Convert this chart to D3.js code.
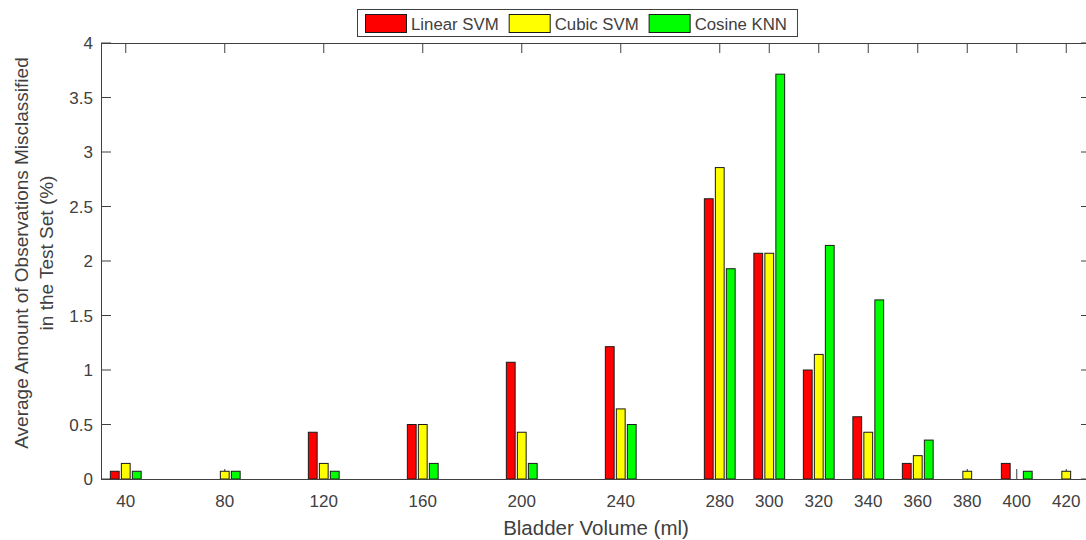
<!DOCTYPE html>
<html>
<head>
<meta charset="utf-8">
<script src="https://cdn.jsdelivr.net/npm/d3@7"></script>
<style>
  html, body { margin: 0; padding: 0; background: #fff; }
  svg { display: block; }
  text { font-family: "Liberation Sans", Arial, Helvetica, sans-serif; fill: #404040; }
</style>
</head>
<body>
<svg id="chart" width="1086" height="540"></svg>
<script>
// ---- data ----
const volumes = [40, 80, 120, 160, 200, 240, 280, 300, 320, 340, 360, 380, 400, 420];
const seriesNames = ["Linear SVM", "Cubic SVM", "Cosine KNN"];
const linearSVM = [0.071, 0, 0.429, 0.5, 1.071, 1.214, 2.571, 2.071, 1.0, 0.571, 0.143, 0, 0.143, 0];
const cubicSVM  = [0.143, 0.071, 0.143, 0.5, 0.429, 0.643, 2.857, 2.071, 1.143, 0.429, 0.214, 0.071, 0, 0.071];
const cosineKNN = [0.071, 0.071, 0.071, 0.143, 0.143, 0.5, 1.929, 3.714, 2.143, 1.643, 0.357, 0, 0.071, 0];
const yTicks = [0, 0.5, 1, 1.5, 2, 2.5, 3, 3.5, 4];
const seriesColors = ["#ff0000", "#ffff00", "#00ff00"];
const xLabel = "Bladder Volume (ml)";
const yLabelLines = ["Average Amount of Observations Misclassified", "in the Test Set (%)"];

const series = [linearSVM, cubicSVM, cosineKNN];

(function () {
// ---- layout ----
const svg = d3.select("#chart");
const pL = 101, pR = 1091, pT = 43, pB = 479;
const axisColor = "#404040";

const x = d3.scaleLinear().domain([30, 430]).range([pL, pR]);
const y = d3.scaleLinear().domain([0, 4]).range([pB, pT]);

// MATLAB-like grouped bar geometry
const minSpacing = 20;
const groupWidth = Math.min(0.8, 3 / 4.5);
const slot = minSpacing * groupWidth / 3;      // in data units
const barW = slot * 0.8;                        // in data units
const pxPerUnit = x(1) - x(0);

// ticks (drawn under bars)
const ticksG = svg.append("g");
const tickLen = 10;
ticksG.selectAll(".xtb").data(volumes).join("line")
  .attr("x1", d => x(d)).attr("x2", d => x(d))
  .attr("y1", pB).attr("y2", pB - tickLen)
  .attr("stroke", axisColor).attr("stroke-width", 1);
ticksG.selectAll(".xtt").data(volumes).join("line")
  .attr("x1", d => x(d)).attr("x2", d => x(d))
  .attr("y1", pT).attr("y2", pT + tickLen)
  .attr("stroke", axisColor).attr("stroke-width", 1);
ticksG.selectAll(".ytl").data(yTicks).join("line")
  .attr("x1", pL).attr("x2", pL + tickLen)
  .attr("y1", d => y(d)).attr("y2", d => y(d))
  .attr("stroke", axisColor).attr("stroke-width", 1);
ticksG.selectAll(".ytr").data(yTicks).join("line")
  .attr("x1", pR).attr("x2", pR - tickLen)
  .attr("y1", d => y(d)).attr("y2", d => y(d))
  .attr("stroke", axisColor).attr("stroke-width", 1);

// bars
const barsG = svg.append("g");
series.forEach((vals, si) => {
  const off = (si - 1) * slot;
  barsG.selectAll(null).data(vals.map((v, i) => ({v, xv: volumes[i]}))).join("rect")
    .attr("x", d => x(d.xv + off - barW / 2))
    .attr("width", barW * pxPerUnit)
    .attr("y", d => y(d.v))
    .attr("height", d => y(0) - y(d.v))
    .attr("fill", seriesColors[si])
    .attr("stroke", "#1a1a1a")
    .attr("stroke-width", 1);
});

// axis box
svg.append("rect")
  .attr("x", pL + 0.5).attr("y", pT + 0.5)
  .attr("width", pR - pL).attr("height", pB - pT)
  .attr("fill", "none").attr("stroke", axisColor).attr("stroke-width", 1);

// tick labels
svg.append("g").selectAll("text").data(volumes).join("text")
  .attr("x", d => x(d)).attr("y", 507)
  .attr("text-anchor", "middle")
  .style("font-size", "17px")
  .text(d => d);
svg.append("g").selectAll("text").data(yTicks).join("text")
  .attr("x", 93).attr("y", d => y(d) + 6)
  .attr("text-anchor", "end")
  .style("font-size", "17px")
  .text(d => d);

// axis labels
svg.append("text")
  .attr("x", 596).attr("y", 535)
  .attr("text-anchor", "middle")
  .style("font-size", "20.5px")
  .text(xLabel);
const yl = svg.append("g").attr("transform", "translate(0,253) rotate(-90)");
yLabelLines.forEach((t, i) => {
  yl.append("text")
    .attr("x", 0).attr("y", 28 + i * 24.5)
    .attr("text-anchor", "middle")
    .style("font-size", "19px")
    .text(t);
});

// legend
const lg = svg.append("g");
const box = lg.append("rect")
  .attr("x", 357.5).attr("y", 9.5).attr("height", 27)
  .attr("fill", "#fff").attr("stroke", axisColor).attr("stroke-width", 1);
let cx = 365;
seriesNames.forEach((name, i) => {
  lg.append("rect")
    .attr("x", cx + 0.5).attr("y", 14.5).attr("width", 41).attr("height", 18)
    .attr("fill", seriesColors[i]).attr("stroke", "#1a1a1a").attr("stroke-width", 1);
  const t = lg.append("text")
    .attr("x", cx + 46).attr("y", 30)
    .style("font-size", "16.8px")
    .text(name);
  const w = t.node().getComputedTextLength();
  cx = cx + 46 + w + 10;
});
box.attr("width", cx - 357);
})();
</script>
</body>
</html>
